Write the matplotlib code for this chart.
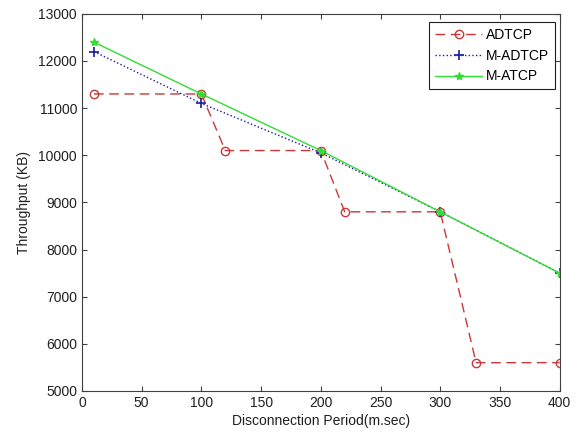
import matplotlib
matplotlib.use("Agg")
import matplotlib.pyplot as plt

plt.rcParams['font.family'] = ['Liberation Sans', 'DejaVu Sans']

adtcp_x = [10, 100, 120, 200, 220, 300, 330, 400]
adtcp_y = [11300, 11300, 10100, 10100, 8800, 8800, 5600, 5600]
madtcp_x = [10, 100, 200, 300, 400]
madtcp_y = [12200, 11100, 10050, 8800, 7500]
matcp_x = [10, 100, 200, 300, 400]
matcp_y = [12400, 11300, 10100, 8800, 7500]

fig = plt.figure(figsize=(5.77, 4.32), dpi=100)
ax = fig.add_axes([0.142, 0.095, 0.828, 0.873])

ax.plot(adtcp_x, adtcp_y, linestyle=(0, (7, 4)), color='#c83838', marker='o',
        markersize=6, markerfacecolor='none', markeredgecolor='#c83838', linewidth=1.0, label='ADTCP')
ax.plot(madtcp_x, madtcp_y, linestyle=':', color='#1a1aa0', marker='+',
        markersize=7, markeredgewidth=1.2, linewidth=1.0, label='M-ADTCP')
ax.plot(matcp_x, matcp_y, linestyle='-', color='#33dd33', marker='*',
        markersize=6, linewidth=1.0, label='M-ATCP')

ax.set_xlim(0, 400)
ax.set_ylim(5000, 13000)
ax.set_xticks(range(0, 401, 50))
ax.set_yticks(range(5000, 13001, 1000))
ax.tick_params(direction='in', top=True, right=True, labelsize=10, length=3.5, color='#404040', labelcolor='#202020')
for s in ax.spines.values():
    s.set_color('#404040')
ax.set_xlabel('Disconnection Period(m.sec)', fontsize=10, labelpad=3, color='#202020')
ax.set_ylabel('Throughput (KB)', fontsize=10, labelpad=5, color='#202020')

leg = ax.legend(loc='upper right', bbox_to_anchor=(555/577, 1-22/432), bbox_transform=fig.transFigure,
                fontsize=10, fancybox=False, framealpha=1, borderaxespad=0,
                edgecolor='#202020', handlelength=3.4, handletextpad=0.3, labelspacing=0.5, borderpad=0.4)
leg.get_frame().set_linewidth(0.8)

fig.savefig('out.png', dpi=100)
